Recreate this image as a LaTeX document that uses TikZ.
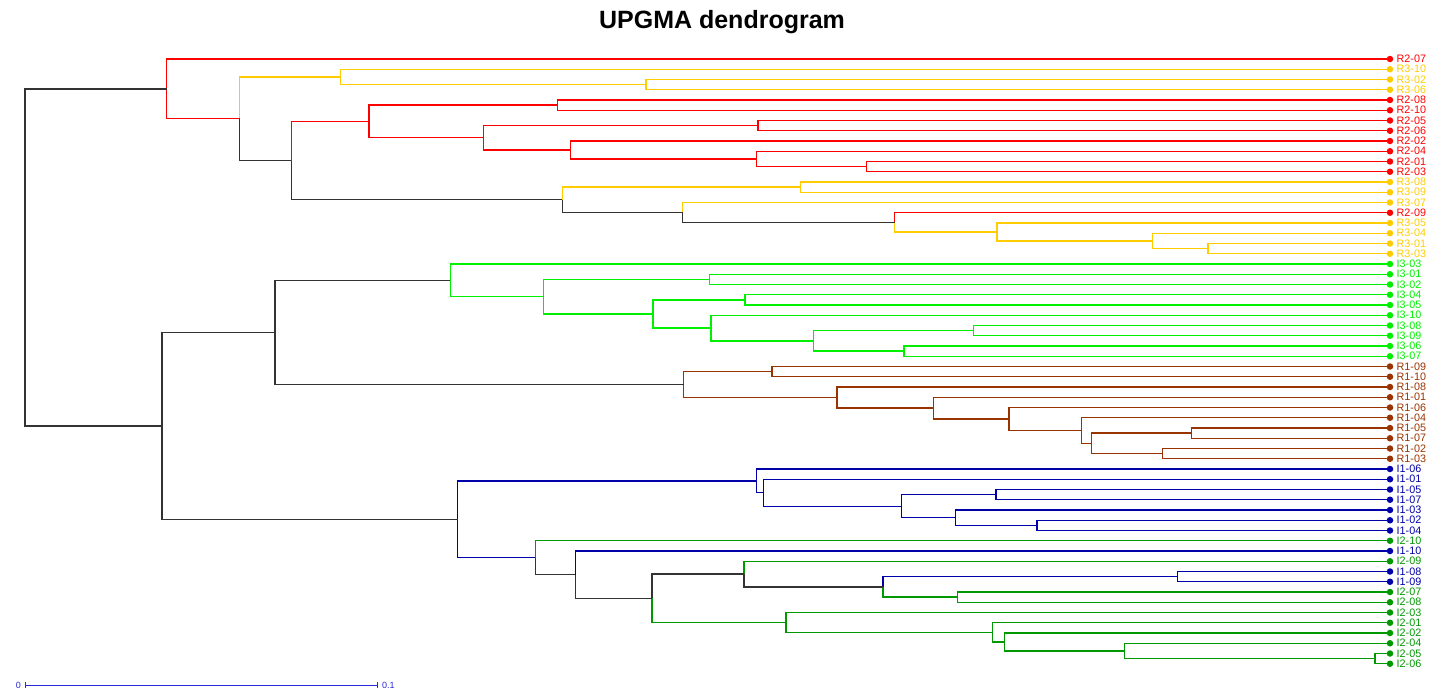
\documentclass[tikz,border=0pt]{standalone}
\usepackage{fontspec}
\setmainfont{Liberation Sans}
\usetikzlibrary{arrows.meta,positioning,calc}

\definecolor{dgRed}{RGB}{255,0,0}
\definecolor{dgGold}{RGB}{255,204,0}
\definecolor{dgLime}{RGB}{0,240,0}
\definecolor{dgBrown}{RGB}{153,51,0}
\definecolor{dgNavy}{RGB}{0,0,170}
\definecolor{dgGreen}{RGB}{0,153,0}
\definecolor{dgLink}{RGB}{51,51,51}
\definecolor{dgScale}{RGB}{40,40,220}

\tikzset{
  branch/.style={line width=1.3pt},
  leafdot/.style={circle, inner sep=0pt, minimum size=6.5pt},
  leaflbl/.style={inner sep=1pt, font=\fontsize{10.8}{10.8}\selectfont},
}

% clade: name, x, upper child, lower child, upper colour, lower colour
\newcommand{\clade}[6]{%
  \path let \p1=($(#3)!0.5!(#4)$) in coordinate (#1) at (#2pt,\y1);
  \draw[branch,draw=#5] (#1) |- (#3);
  \draw[branch,draw=#6] (#1) |- (#4);
}

\begin{document}
\begin{tikzpicture}[x=1pt,y=-1pt]
    \useasboundingbox (0,0) rectangle (1438,691);

    % Title
    \node[font=\fontsize{25}{25}\selectfont\bfseries] (title) at (722,22) {UPGMA dendrogram};

    % Leaves
    \foreach \lbl/\col [count=\i from 0] in {
        R2-07/dgRed, R3-10/dgGold, R3-02/dgGold, R3-06/dgGold, R2-08/dgRed,
        R2-10/dgRed, R2-05/dgRed, R2-06/dgRed, R2-02/dgRed, R2-04/dgRed,
        R2-01/dgRed, R2-03/dgRed, R3-08/dgGold, R3-09/dgGold, R3-07/dgGold,
        R2-09/dgRed, R3-05/dgGold, R3-04/dgGold, R3-01/dgGold, R3-03/dgGold,
        I3-03/dgLime, I3-01/dgLime, I3-02/dgLime, I3-04/dgLime, I3-05/dgLime,
        I3-10/dgLime, I3-08/dgLime, I3-09/dgLime, I3-06/dgLime, I3-07/dgLime,
        R1-09/dgBrown, R1-10/dgBrown, R1-08/dgBrown, R1-01/dgBrown, R1-06/dgBrown,
        R1-04/dgBrown, R1-05/dgBrown, R1-07/dgBrown, R1-02/dgBrown, R1-03/dgBrown,
        I1-06/dgNavy, I1-01/dgNavy, I1-05/dgNavy, I1-07/dgNavy, I1-03/dgNavy,
        I1-02/dgNavy, I1-04/dgNavy, I2-10/dgGreen, I1-10/dgNavy, I2-09/dgGreen,
        I1-08/dgNavy, I1-09/dgNavy, I2-07/dgGreen, I2-08/dgGreen, I2-03/dgGreen,
        I2-01/dgGreen, I2-02/dgGreen, I2-04/dgGreen, I2-05/dgGreen, I2-06/dgGreen}
    {
        \node[leafdot, fill=\col] (l\i) at (1390,{59+10.25*\i}) {};
        \node[leaflbl, text=\col, right=2pt of l\i] (t\i) {\lbl};
    }

    % R2 / R3 cluster
    \clade{E}{646}{l2}{l3}{dgGold}{dgGold}
    \clade{C}{340.7}{l1}{E}{dgGold}{dgGold}
    \clade{H}{557.7}{l4}{l5}{dgRed}{dgRed}
    \clade{J}{758}{l6}{l7}{dgRed}{dgRed}
    \clade{M}{866.7}{l10}{l11}{dgRed}{dgRed}
    \clade{L}{756.7}{l9}{M}{dgRed}{dgRed}
    \clade{K}{570.7}{l8}{L}{dgRed}{dgRed}
    \clade{I}{483.3}{J}{K}{dgRed}{dgRed}
    \clade{F}{369}{H}{I}{dgRed}{dgRed}
    \clade{N}{800.3}{l12}{l13}{dgGold}{dgGold}
    \clade{S}{1208}{l18}{l19}{dgGold}{dgGold}
    \clade{R}{1152.7}{l17}{S}{dgGold}{dgGold}
    \clade{Q}{997}{l16}{R}{dgGold}{dgGold}
    \clade{P}{894.7}{l15}{Q}{dgRed}{dgGold}
    \clade{O}{682.7}{l14}{P}{dgGold}{dgLink}
    \clade{G}{562.3}{N}{O}{dgGold}{dgLink}
    \clade{D}{291.3}{F}{G}{dgRed}{dgLink}
    \clade{B}{239.7}{C}{D}{dgGold}{dgLink}
    \clade{A}{166.7}{l0}{B}{dgRed}{dgRed}

    % I3 cluster
    \clade{W3}{709.7}{l21}{l22}{dgLime}{dgLime}
    \clade{W5}{745}{l23}{l24}{dgLime}{dgLime}
    \clade{W8}{973.3}{l26}{l27}{dgLime}{dgLime}
    \clade{W9}{904}{l28}{l29}{dgLime}{dgLime}
    \clade{W7}{813.3}{W8}{W9}{dgLime}{dgLime}
    \clade{W6}{711}{l25}{W7}{dgLime}{dgLime}
    \clade{W4}{653}{W5}{W6}{dgLime}{dgLime}
    \clade{W2}{543.3}{W3}{W4}{dgLime}{dgLime}
    \clade{W}{450.3}{l20}{W2}{dgLime}{dgLime}

    % R1 cluster
    \clade{X1}{772}{l30}{l31}{dgBrown}{dgBrown}
    \clade{X7}{1191.7}{l36}{l37}{dgBrown}{dgBrown}
    \clade{X8}{1162.3}{l38}{l39}{dgBrown}{dgBrown}
    \clade{X6}{1091.3}{X7}{X8}{dgBrown}{dgBrown}
    \clade{X5}{1081.7}{l35}{X6}{dgBrown}{dgBrown}
    \clade{X4}{1009}{l34}{X5}{dgBrown}{dgBrown}
    \clade{X3}{933.5}{l33}{X4}{dgBrown}{dgBrown}
    \clade{X2}{837}{l32}{X3}{dgBrown}{dgBrown}
    \clade{X}{683.7}{X1}{X2}{dgBrown}{dgBrown}
    \clade{U}{275}{W}{X}{dgLink}{dgLink}

    % I1 / I2 cluster
    \clade{V7}{1037}{l45}{l46}{dgNavy}{dgNavy}
    \clade{V6}{955.7}{l44}{V7}{dgNavy}{dgNavy}
    \clade{V5}{996}{l42}{l43}{dgNavy}{dgNavy}
    \clade{V4}{901.7}{V5}{V6}{dgNavy}{dgNavy}
    \clade{V3}{763.7}{l41}{V4}{dgNavy}{dgNavy}
    \clade{V1}{756.7}{l40}{V3}{dgNavy}{dgNavy}
    \clade{V13}{1177.3}{l50}{l51}{dgNavy}{dgNavy}
    \clade{V14}{957.7}{l52}{l53}{dgGreen}{dgGreen}
    \clade{V12}{883}{V13}{V14}{dgNavy}{dgGreen}
    \clade{V10}{744}{l49}{V12}{dgGreen}{dgLink}
    \clade{V18}{1375}{l58}{l59}{dgGreen}{dgGreen}
    \clade{V17}{1124.3}{l57}{V18}{dgGreen}{dgGreen}
    \clade{V16}{1004.3}{l56}{V17}{dgGreen}{dgGreen}
    \clade{V15}{992.3}{l55}{V16}{dgGreen}{dgGreen}
    \clade{V11}{786}{l54}{V15}{dgGreen}{dgGreen}
    \clade{V9}{652}{V10}{V11}{dgLink}{dgGreen}
    \clade{V8}{575.3}{l48}{V9}{dgNavy}{dgLink}
    \clade{V2}{535.3}{l47}{V8}{dgGreen}{dgLink}
    \clade{V}{457.7}{V1}{V2}{dgNavy}{dgNavy}

    % Root
    \clade{T}{162}{U}{V}{dgLink}{dgLink}
    \clade{root}{25}{A}{T}{dgLink}{dgLink}

    % Scale bar
    \coordinate (sb0) at (25,685);
    \coordinate (sb1) at (378,685);
    \draw[dgScale, line width=1pt, {Bar[width=6pt]}-{Bar[width=6pt]}] (sb0) -- (sb1);
    \node[dgScale, font=\fontsize{9}{9}\selectfont, left=3pt of sb0, inner sep=1pt] (sbl0) {0};
    \node[dgScale, font=\fontsize{9}{9}\selectfont, right=3pt of sb1, inner sep=1pt] (sbl1) {0.1};
\end{tikzpicture}
\end{document}
